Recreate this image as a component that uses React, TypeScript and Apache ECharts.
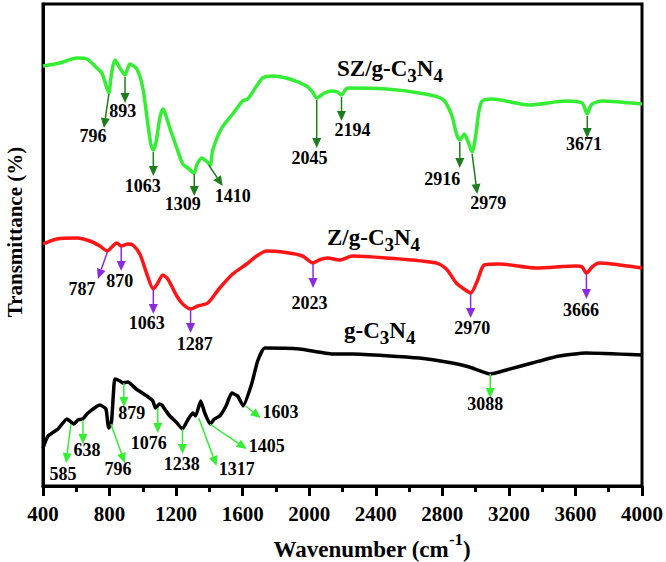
import React, { useEffect, useRef } from "react";
import * as echarts from "echarts";

const FONT = '"Liberation Serif", "Times New Roman", serif';

// Spectra: [wavenumber (cm-1), transmittance (a.u., offset for stacking)]
const szSpectrum = [
  [400, 420], [502, 423], [604, 428], [664, 427], [730, 417], [754, 413], [784, 398], [796, 393],
  [806, 405], [814, 415], [832, 426], [862, 418], [893, 411], [922, 422], [964, 417], [1000, 398],
  [1030, 362], [1048, 342], [1063, 336], [1078, 343], [1090, 355], [1102, 368], [1120, 377],
  [1162, 358], [1204, 338], [1240, 322], [1270, 318], [1309, 313], [1324, 321], [1354, 328],
  [1380, 325], [1405, 321], [1420, 336], [1474, 358], [1540, 372], [1600, 385], [1630, 387],
  [1684, 400], [1720, 408], [1780, 410], [1882, 407], [1984, 400], [2020, 394], [2045, 388],
  [2092, 393], [2134, 395], [2170, 394], [2194, 391], [2220, 397], [2242, 398], [2464, 397],
  [2662, 393], [2800, 387], [2854, 372], [2885, 352], [2905, 346], [2932, 352], [2955, 344],
  [2979, 334], [3000, 350], [3020, 375], [3040, 385], [3100, 387], [3322, 381], [3544, 385],
  [3640, 383], [3660, 376], [3671, 372], [3690, 380], [3712, 383], [3760, 385], [4000, 382],
];

const zSpectrum = [
  [400, 242], [484, 247], [604, 248], [682, 245], [742, 240], [787, 235], [814, 239], [844, 243],
  [870, 240], [910, 242], [940, 241], [982, 232], [1024, 212], [1063, 197], [1090, 203],
  [1120, 211], [1150, 207], [1204, 190], [1240, 182], [1287, 177], [1330, 180], [1390, 183],
  [1462, 198], [1540, 212], [1624, 222], [1684, 230], [1744, 235], [1840, 234], [1960, 230],
  [2023, 223], [2060, 226], [2110, 228], [2182, 226], [2260, 230], [2464, 228], [2764, 223],
  [2824, 217], [2884, 203], [2930, 197], [2970, 193], [3010, 205], [3052, 221], [3142, 222],
  [3364, 218], [3604, 220], [3640, 219], [3666, 213], [3700, 219], [3724, 222], [3742, 223],
  [3820, 222], [4000, 218],
];

const gSpectrum = [
  [400, 38], [430, 50], [490, 57], [544, 67], [585, 62], [610, 66], [638, 67], [670, 73],
  [742, 81], [778, 77], [790, 62], [796, 58], [808, 62], [814, 68], [826, 100], [832, 107],
  [862, 105], [879, 103], [910, 104], [960, 97], [1024, 90], [1060, 85], [1076, 78], [1100, 82],
  [1114, 81], [1140, 75], [1162, 70], [1200, 64], [1238, 57], [1270, 66], [1300, 73], [1317, 70],
  [1348, 85], [1372, 73], [1405, 62], [1430, 67], [1462, 70], [1500, 80], [1534, 93], [1570, 90],
  [1603, 80], [1654, 102], [1690, 125], [1732, 138], [1942, 137], [2140, 132], [2260, 132],
  [2662, 128], [2860, 123], [2962, 119], [3088, 112], [3184, 116], [3340, 123], [3502, 130],
  [3664, 133], [4000, 131],
];

// Peak annotations: [label, arrow start wn, start value, arrow tip wn, tip value, label wn, label value]
const szPeaks = [
  [796, 796, 392, 766, 358, 700, 350],
  [893, 893, 409, 893, 383, 880, 375],
  [1063, 1063, 334, 1063, 310, 1000, 300],
  [1309, 1309, 312, 1309, 290, 1240, 282],
  [1410, 1396, 321, 1480, 300, 1540, 290],
  [2045, 2045, 386, 2045, 338, 2002, 328],
  [2194, 2194, 389, 2194, 365, 2260, 356],
  [2916, 2905, 344, 2905, 318, 2800, 307],
  [2979, 2979, 332, 3010, 292, 3076, 283],
  [3671, 3671, 370, 3671, 348, 3652, 342],
];
const zPeaks = [
  [787, 787, 234, 730, 207, 634, 197],
  [870, 870, 239, 870, 215, 862, 205],
  [1063, 1063, 196, 1063, 172, 1024, 163],
  [1287, 1287, 176, 1287, 153, 1312, 142],
  [2023, 2023, 222, 2023, 198, 2002, 183],
  [2970, 2970, 192, 2970, 168, 2980, 158],
  [3666, 3666, 212, 3666, 187, 3634, 176],
];
const gPeaks = [
  [585, 568, 62, 538, 23, 520, 12],
  [638, 640, 66, 640, 42, 664, 36],
  [796, 808, 62, 892, 23, 850, 17],
  [879, 886, 103, 886, 79, 934, 73],
  [1076, 1090, 78, 1090, 53, 1036, 43],
  [1238, 1238, 57, 1238, 32, 1234, 22],
  [1317, 1336, 68, 1444, 20, 1564, 17],
  [1405, 1402, 62, 1624, 37, 1744, 40],
  [1603, 1618, 80, 1708, 68, 1828, 74],
  [3088, 3088, 112, 3088, 88, 3058, 82],
];

const xMin = 400;
const xMax = 4000;
const xStep = 400;

function annotationSeries(list: number[][], color: string) {
  return {
    type: "custom",
    coordinateSystem: "cartesian2d",
    clip: false,
    silent: true,
    z: 5,
    data: list.map((a) => [a[1], a[2], a[3], a[4], a[5], a[6]]),
    encode: { x: [0, 2, 4], y: [1, 3, 5] },
    renderItem: (params: any, api: any) => {
      const a = list[params.dataIndex];
      const p1 = api.coord([api.value(0), api.value(1)]);
      const p2 = api.coord([api.value(2), api.value(3)]);
      const lp = api.coord([api.value(4), api.value(5)]);
      const dx = p2[0] - p1[0];
      const dy = p2[1] - p1[1];
      const len = Math.hypot(dx, dy) || 1;
      const ux = dx / len;
      const uy = dy / len;
      const hl = 10;
      const hw = 4.5;
      const bx = p2[0] - ux * hl;
      const by = p2[1] - uy * hl;
      return {
        type: "group",
        children: [
          {
            type: "line",
            shape: { x1: p1[0], y1: p1[1], x2: bx, y2: by },
            style: { stroke: color, lineWidth: 1.5 },
          },
          {
            type: "polygon",
            shape: {
              points: [
                [p2[0], p2[1]],
                [bx - uy * hw, by + ux * hw],
                [bx + uy * hw, by - ux * hw],
              ],
            },
            style: { fill: color },
          },
          {
            type: "text",
            x: lp[0],
            y: lp[1],
            style: {
              text: String(a[0]),
              fill: "#000",
              font: `bold 18px ${FONT}`,
              textAlign: "center",
              textVerticalAlign: "middle",
            },
          },
        ],
      };
    },
  };
}

const subRich = {
  a: { fontSize: 23, fontWeight: "bold", fontFamily: FONT, color: "#000", lineHeight: 23, verticalAlign: "top" },
  b: { fontSize: 19, fontWeight: "bold", fontFamily: FONT, color: "#000", lineHeight: 28, verticalAlign: "bottom" },
};

function formula(prefix: string) {
  return `{a|${prefix}C}{b|3}{a|N}{b|4}`;
}

export default function App() {
  const ref = useRef<HTMLDivElement>(null);
  useEffect(() => {
    document.body.style.margin = "0";
    const chart = echarts.init(ref.current!, null, { renderer: "svg" });
    chart.setOption({
      animation: false,
      grid: {
        left: 43,
        right: 23,
        top: 4,
        bottom: 76,
        show: true,
        borderColor: "#000",
        borderWidth: 3,
        backgroundColor: "transparent",
      },
      xAxis: {
        type: "value",
        min: xMin,
        max: xMax,
        interval: xStep,
        axisLine: { show: true, lineStyle: { color: "#000", width: 3 } },
        axisTick: { show: true, inside: false, length: 10, lineStyle: { color: "#000", width: 3 } },
        minorTick: { show: true, splitNumber: 2, length: 6, lineStyle: { color: "#000", width: 3 } },
        splitLine: { show: false },
        minorSplitLine: { show: false },
        axisLabel: {
          color: "#000",
          fontSize: 21,
          fontWeight: "bold",
          fontFamily: FONT,
          margin: 17,
          formatter: (v: number) => String(v),
        },
      },
      yAxis: {
        type: "value",
        min: 0,
        max: 482,
        axisLine: { show: true, lineStyle: { color: "#000", width: 3 } },
        axisTick: { show: false },
        axisLabel: { show: false },
        splitLine: { show: false },
      },
      graphic: [
        {
          type: "text",
          x: 15,
          y: 232,
          rotation: Math.PI / 2,
          style: {
            text: "Transmittance (%)",
            font: `bold 21px ${FONT}`,
            fill: "#000",
            textAlign: "center",
            textVerticalAlign: "middle",
          },
        },
        {
          type: "text",
          x: 372,
          y: 531,
          style: {
            text: "{a|Wavenumber (cm}{b|-1}{a|)}",
            textAlign: "center",
            textVerticalAlign: "top",
            rich: {
              a: { fontSize: 23, fontWeight: "bold", fontFamily: FONT, color: "#000", lineHeight: 30, verticalAlign: "bottom" },
              b: { fontSize: 17, fontWeight: "bold", fontFamily: FONT, color: "#000", lineHeight: 17, verticalAlign: "top" },
            },
          },
        },
        {
          type: "text",
          x: 337,
          y: 57,
          style: { text: formula("SZ/g-"), textAlign: "left", textVerticalAlign: "top", rich: subRich },
        },
        {
          type: "text",
          x: 327,
          y: 226,
          style: { text: formula("Z/g-"), textAlign: "left", textVerticalAlign: "top", rich: subRich },
        },
        {
          type: "text",
          x: 344,
          y: 319,
          style: { text: formula("g-"), textAlign: "left", textVerticalAlign: "top", rich: subRich },
        },
      ],
      series: [
        {
          type: "line",
          data: szSpectrum,
          showSymbol: false,
          smooth: 0.25,
          lineStyle: { color: "#33ee33", width: 3.5 },
          z: 3,
        },
        {
          type: "line",
          data: zSpectrum,
          showSymbol: false,
          smooth: 0.25,
          lineStyle: { color: "#ff1515", width: 3.5 },
          z: 3,
        },
        {
          type: "line",
          data: gSpectrum,
          showSymbol: false,
          smooth: 0.15,
          lineStyle: { color: "#000000", width: 3.5 },
          z: 3,
        },
        annotationSeries(szPeaks, "#1e7d1e"),
        annotationSeries(zPeaks, "#8a2be2"),
        annotationSeries(gPeaks, "#33ee33"),
      ],
    });
    return () => chart.dispose();
  }, []);
  return (
    <div
      ref={ref}
      style={{ position: "absolute", left: 0, top: 0, width: 666, height: 562, background: "#fff" }}
    />
  );
}
